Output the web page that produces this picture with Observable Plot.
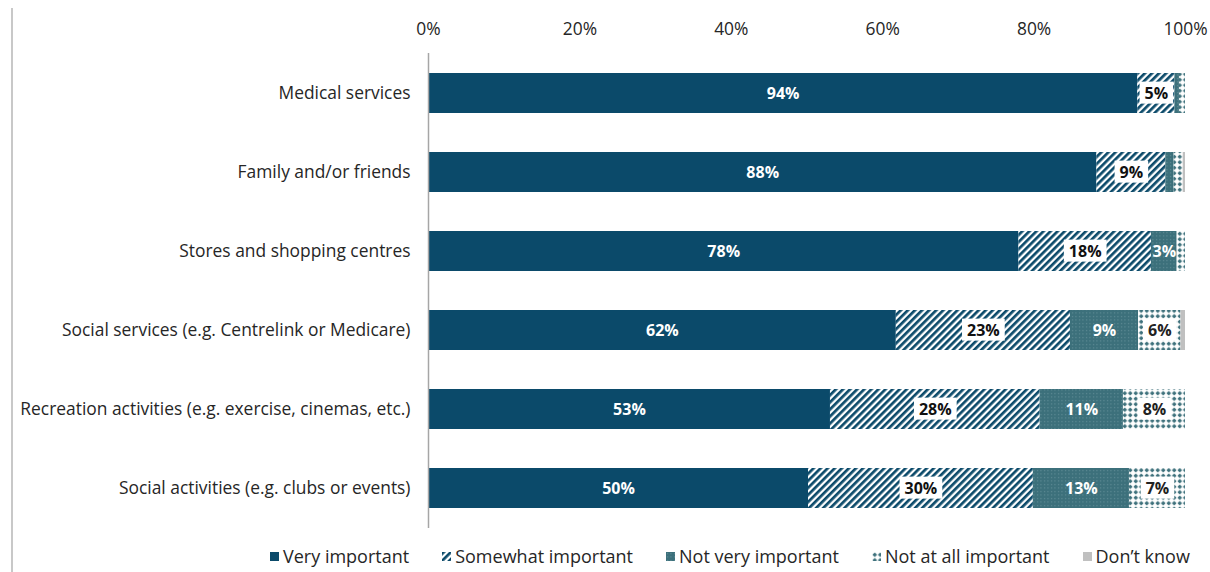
<!DOCTYPE html>
<html>
<head>
<meta charset="utf-8">
<script src="https://cdn.jsdelivr.net/npm/d3@7"></script>
<script src="https://cdn.jsdelivr.net/npm/@observablehq/plot@0.6"></script>
<style>
  html, body { margin: 0; padding: 0; background: #fff; }
  body { width: 1210px; height: 572px; position: relative; overflow: hidden; font-family: "Open Sans", sans-serif; }
  #frame { position: absolute; left: 11px; top: 8px; width: 2px; height: 564px; background: #c8c8c8; }
  #chart { position: absolute; left: 0; top: 0; }
  #legend { position: absolute; left: 270px; top: 544px; display: flex; gap: 33px; font-size: 18px; color: #262626; align-items: center; white-space: nowrap; }
  #legend .item { display: flex; align-items: center; gap: 4px; }
  #legend svg { display: block; }
</style>
</head>
<body>
<svg width="0" height="0" style="position:absolute">
  <defs>
    <pattern id="pStripes" patternUnits="userSpaceOnUse" width="5" height="5" patternTransform="rotate(45)">
      <rect width="5" height="5" fill="#ffffff"/>
      <rect width="2.7" height="5" fill="#0b4a6a"/>
    </pattern>
    <pattern id="pNotVery" patternUnits="userSpaceOnUse" width="3.5" height="3.5">
      <rect width="3.5" height="3.5" fill="#3c707b"/>
      <rect x="1" y="1" width="1" height="1" fill="#6e98a1"/>
    </pattern>
    <pattern id="pNotAtAll" patternUnits="userSpaceOnUse" width="5.5" height="5.5">
      <rect width="5.5" height="5.5" fill="#ffffff"/>
      <path d="M2.75 0.4 L5.1 2.75 L2.75 5.1 L0.4 2.75 Z" fill="#3c707b"/>
    </pattern>
  </defs>
</svg>
<div id="frame"></div>
<div id="chart"></div>
<div id="legend"></div>
<script>
const categories = [
  "Medical services",
  "Family and/or friends",
  "Stores and shopping centres",
  "Social services (e.g. Centrelink or Medicare)",
  "Recreation activities (e.g. exercise, cinemas, etc.)",
  "Social activities (e.g. clubs or events)"
];
const responses = ["Very important", "Somewhat important", "Not very important", "Not at all important", "Don\u2019t know"];
const veryImportant     = [93.7, 88.3, 78.0, 61.8, 53.1, 50.2];
const somewhatImportant = [4.9, 9.1, 17.5, 23.0, 27.7, 29.7];
const notVeryImportant  = [0.6, 1.1, 3.4, 9.0, 11.0, 12.7];
const notAtAllImportant = [0.8, 1.2, 1.1, 5.6, 8.2, 7.4];
const dontKnow          = [0, 0.3, 0, 0.6, 0, 0];
const xTicks = [0, 20, 40, 60, 80, 100];

const seriesValues = [veryImportant, somewhatImportant, notVeryImportant, notAtAllImportant, dontKnow];
const fills = {
  "Very important": "#0b4a6a",
  "Somewhat important": "url(#pStripes)",
  "Not very important": "url(#pNotVery)",
  "Not at all important": "url(#pNotAtAll)",
  "Don\u2019t know": "#c0c0c0"
};
const labelColors = {
  "Very important": "#ffffff",
  "Somewhat important": "#111111",
  "Not very important": "#ffffff",
  "Not at all important": "#222222",
  "Don\u2019t know": "#222222"
};
const plainLabel = new Set(["Very important", "Not very important"]);

const rows = [];
categories.forEach((cat, i) => {
  responses.forEach((resp, j) => {
    rows.push({cat, resp, value: seriesValues[j][i]});
  });
});

const stackOpts = {x: "value", y: "cat", z: "resp", order: responses};
const fmt = d => d.value >= 2.5 ? Math.round(d.value) + "%" : "";

const chart = Plot.plot({
  width: 1210,
  height: 540,
  marginLeft: 428,
  marginRight: 25,
  marginTop: 53,
  marginBottom: 12,
  style: {fontFamily: "'Open Sans', sans-serif", fontSize: "17.4px", color: "#262626", background: "transparent", overflow: "visible"},
  x: {domain: [0, 100], axis: "top", ticks: xTicks, tickFormat: d => d + "%", tickSize: 0, tickPadding: 19, label: null},
  y: {domain: categories, paddingInner: 0.494, paddingOuter: 0.253, tickSize: 0, tickPadding: 18, label: null},
  color: {type: "identity"},
  marks: [
    Plot.barX(rows, Plot.stackX({...stackOpts, fill: d => fills[d.resp]})),
    Plot.ruleX([0], {stroke: "#a6a6a6", strokeWidth: 1.5}),
    Plot.text(rows, Plot.stackX({...stackOpts,
      text: d => plainLabel.has(d.resp) ? fmt(d) : "",
      fill: d => labelColors[d.resp], fontWeight: "bold", fontSize: 16})),
    Plot.text(rows, Plot.stackX({...stackOpts,
      text: d => plainLabel.has(d.resp) ? "" : fmt(d),
      fill: d => labelColors[d.resp], fontWeight: "bold", fontSize: 16}))
  ]
});
document.getElementById("chart").appendChild(chart);

// white boxes behind the labels on patterned segments (last text mark)
const textGroups = chart.querySelectorAll('g[aria-label="text"]');
const boxedGroup = textGroups[textGroups.length - 1];
if (boxedGroup) {
  boxedGroup.querySelectorAll("text").forEach(t => {
    if (!t.textContent) return;
    const b = t.getBBox();
    const r = document.createElementNS("http://www.w3.org/2000/svg", "rect");
    r.setAttribute("x", b.x - 5);
    r.setAttribute("y", b.y);
    r.setAttribute("width", b.width + 10);
    r.setAttribute("height", b.height);
    r.setAttribute("fill", "#ffffff");
    if (t.getAttribute("transform")) r.setAttribute("transform", t.getAttribute("transform"));
    t.parentNode.insertBefore(r, t);
  });
}

// legend
const legend = document.getElementById("legend");
responses.forEach(resp => {
  const item = document.createElement("div");
  item.className = "item";
  item.innerHTML = `<svg width="9" height="9"><rect width="9" height="9" fill="${fills[resp]}"/></svg><span>${resp}</span>`;
  legend.appendChild(item);
});
</script>
</body>
</html>
